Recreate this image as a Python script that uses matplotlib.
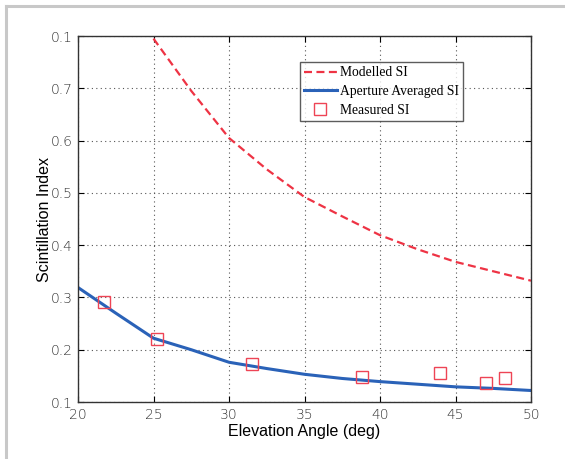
import numpy as np
import matplotlib
matplotlib.use("Agg")
import matplotlib.pyplot as plt
from matplotlib.lines import Line2D

# modelled scintillation index (red dashed)
model_elev = [25, 27.5, 30, 32.5, 35, 37.5, 40, 42.5, 45, 47.5, 50]
model_si = [0.795, 0.695, 0.605, 0.545, 0.492, 0.455, 0.419, 0.392, 0.368, 0.350, 0.332]

# aperture averaged scintillation index (blue)
ap_elev = [20, 22.5, 25, 27.5, 30, 32.5, 35, 37.5, 40, 42.5, 45, 47.5, 50]
ap_si = [0.319, 0.270, 0.222, 0.200, 0.176, 0.164, 0.153, 0.145, 0.139, 0.134, 0.129, 0.126, 0.122]

# measured points
meas_elev = [21.75, 25.25, 31.5, 38.8, 44.0, 47.05, 48.3]
meas_si = [0.292, 0.220, 0.172, 0.148, 0.155, 0.136, 0.145]

xticks = [20, 25, 30, 35, 40, 45, 50]
yticks = [0.1, 0.2, 0.3, 0.4, 0.5, 0.6, 0.7, 0.8]
ytick_labels = ["0.1", "0.2", "0.3", "0.4", "0.5", "0.6", "0.7", "0.1"]

W, H = 565, 459
fig = plt.figure(figsize=(W / 100, H / 100), dpi=100)
fig.patch.set_facecolor("white")

# light gray frame of the screenshot (top and left only)
fx = 6 / W
fy = 1 - 6 / H
fig.add_artist(Line2D([fx, fx], [0, fy], transform=fig.transFigure,
                      color="#c8c8c8", linewidth=2.2))
fig.add_artist(Line2D([fx, 1], [fy, fy], transform=fig.transFigure,
                      color="#c8c8c8", linewidth=2.2))

ax = fig.add_axes([78 / W, 1 - 402 / H, (531 - 78) / W, (402 - 36) / H])

ax.plot(model_elev, model_si, color="#ee3344", linestyle=(0, (3.6, 2)), linewidth=1.6,
        label="Modelled SI")
ax.plot(ap_elev, ap_si, color="#2a62b8", linewidth=2.2, label="Aperture Averaged SI")
ax.plot(meas_elev, meas_si, linestyle="none", marker="s", markersize=8.5,
        markerfacecolor="none", markeredgecolor="#ee4455", markeredgewidth=1.0,
        label="Measured SI")

ax.set_xlim(20, 50)
ax.set_ylim(0.1, 0.8)
ax.set_xticks(xticks)
ax.set_xticklabels([str(x) for x in xticks])
ax.set_yticks(yticks)
ax.set_yticklabels(ytick_labels)
ax.tick_params(direction="in", top=True, right=True, length=4, width=0.8,
               labelsize=10, labelcolor="#333333", pad=4)
for lbl in ax.get_xticklabels() + ax.get_yticklabels():
    lbl.set_family("DejaVu Sans")
    lbl.set_fontweight("light")
ax.grid(True, color="#555555", linestyle=(0, (1, 3)), linewidth=0.8)
for s in ax.spines.values():
    s.set_color("#333333")
    s.set_linewidth(1.0)

ax.set_xlabel("Elevation Angle (deg)", fontsize=11.5, family="Liberation Sans", labelpad=2)
ax.set_ylabel("Scintillation Index", fontsize=11.5, family="Liberation Sans", labelpad=-1)

leg = ax.legend(loc="upper left", bbox_to_anchor=(0.49, 0.928), frameon=True, fancybox=False,
                prop={"family": "Liberation Serif", "size": 9.8}, handlelength=2.4,
                handletextpad=0.25, borderpad=0.3, labelspacing=0.42, borderaxespad=0)
leg.get_frame().set_edgecolor("#333333")
leg.get_frame().set_linewidth(1.0)

fig.savefig("out.png", dpi=100)
